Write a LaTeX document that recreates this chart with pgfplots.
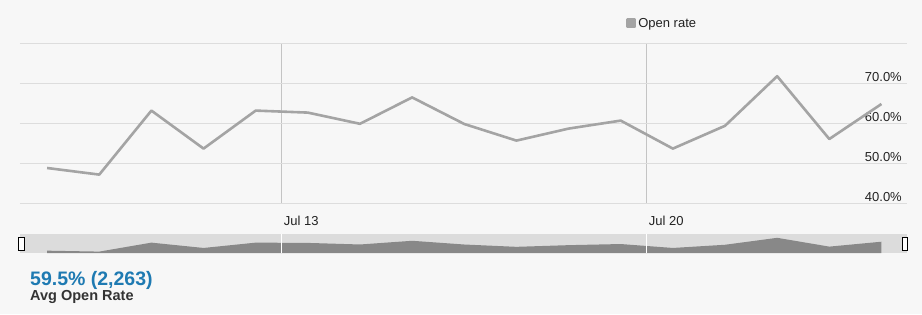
\documentclass[border=0pt]{standalone}
\usepackage{pgfplots}
\pgfplotsset{compat=1.18}
\usepackage{fontspec}
\setmainfont{Liberation Sans}
\definecolor{bgc}{HTML}{F7F7F7}
\definecolor{gridc}{HTML}{DDDDDD}
\definecolor{vgridc}{HTML}{C4C4C4}
\definecolor{linec}{HTML}{A4A4A4}
\definecolor{navbg}{HTML}{DCDCDC}
\definecolor{navdark}{HTML}{888888}
\definecolor{bluec}{HTML}{1E7AB2}
\definecolor{textc}{HTML}{222222}
\definecolor{labc}{HTML}{333333}
\begin{document}
\begin{tikzpicture}
\useasboundingbox (0,0) rectangle (922pt,314pt);
\fill[bgc] (0,0) rectangle (922pt,314pt);
% main chart
\begin{axis}[
  at={(20pt,111pt)}, anchor=south west,
  scale only axis, width=887pt, height=160pt,
  xmin=7.98, xmax=24.99, ymin=40, ymax=80,
  axis line style={draw=none},
  tick style={draw=none},
  /pgf/number format/assume math mode=true,
  xtick={13,20}, xticklabels={Jul 13,Jul 20},
  xticklabel style={font=\fontsize{13}{15}\selectfont, text=textc, anchor=base west, inner sep=0pt, xshift=2pt, yshift=-22pt},
  ytick={40,50,60,70,80}, yticklabels={40.0\%,50.0\%,60.0\%,70.0\%,},
  yticklabel pos=right,
  yticklabel style={font=\fontsize{13}{15}\selectfont, text=textc, anchor=base east, inner sep=0pt, xshift=-5pt, yshift=1.8pt},
  xmajorgrids, ymajorgrids,
  x grid style={color=vgridc, line width=1pt},
  y grid style={color=gridc, line width=1pt},
  legend style={at={(0.6832,1.122)}, anchor=west, draw=none, fill=none, font=\fontsize{13}{15}\selectfont, text=textc, inner sep=0pt, legend cell align=left},
  legend image code/.code={\fill[linec] (0pt,-3.7pt) rectangle (7.5pt,3.7pt);},
]
\addplot[color=linec, line width=2.6pt, line join=round] coordinates {
(8.5,48.75) (9.5,47.1) (10.5,63.1) (11.5,53.6) (12.5,63.1) (13.5,62.6)
(14.5,59.8) (15.5,66.4) (16.5,59.75) (17.5,55.6) (18.5,58.6) (19.5,60.6)
(20.5,53.6) (21.5,59.3) (22.5,71.7) (23.5,56.0) (24.5,64.75)};
\addlegendentry{Open rate}
\end{axis}
% navigator
\begin{axis}[
  at={(20pt,61pt)}, anchor=south west,
  scale only axis, width=887pt, height=19pt,
  xmin=7.98, xmax=24.99, ymin=44.6, ymax=78.5,
  axis line style={draw=none},
  tick style={draw=none},
  xtick={13,20}, xticklabels={,}, ytick=\empty,
  xmajorgrids, x grid style={color=white, line width=1.2pt},
  axis background/.style={fill=navbg},
  axis on top,
  clip=false,
]
\addplot[fill=navdark, draw=none] coordinates {
(8.5,48.75) (9.5,47.1) (10.5,63.1) (11.5,53.6) (12.5,63.1) (13.5,62.6)
(14.5,59.8) (15.5,66.4) (16.5,59.75) (17.5,55.6) (18.5,58.6) (19.5,60.6)
(20.5,53.6) (21.5,59.3) (22.5,71.7) (23.5,56.0) (24.5,64.75)} \closedcycle;
\draw[black, fill=white, line width=1pt] ([xshift=-1pt]rel axis cs:0,0.12) rectangle ([xshift=4.5pt]rel axis cs:0,0.8);
\draw[black, fill=white, line width=1pt] ([xshift=-4.5pt]rel axis cs:1,0.12) rectangle ([xshift=0.5pt]rel axis cs:1,0.8);
\end{axis}
\node[anchor=base west, inner sep=0pt, text=bluec, font=\bfseries\fontsize{19.5}{22}\selectfont] at (30pt,28.7pt) {59.5\% (2,263)};
\node[anchor=base west, inner sep=0pt, text=labc, font=\bfseries\fontsize{14.5}{16}\selectfont] at (30pt,13.4pt) {Avg Open Rate};
\end{tikzpicture}
\end{document}
